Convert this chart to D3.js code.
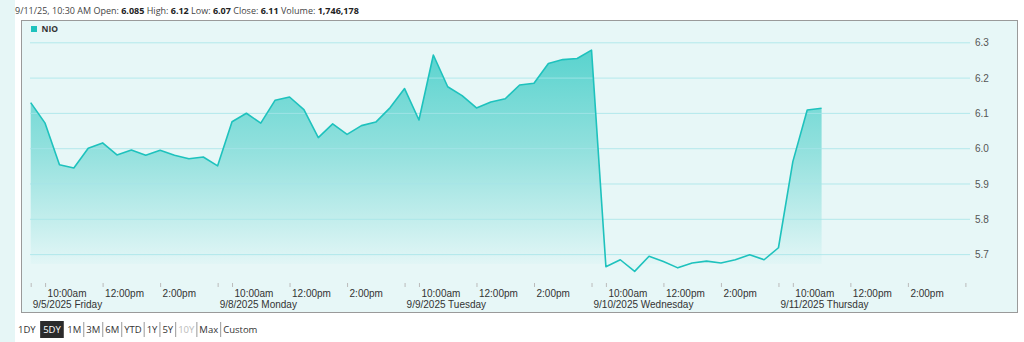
<!DOCTYPE html>
<html><head><meta charset="utf-8">
<script src="https://cdn.jsdelivr.net/npm/d3@7"></script>
<style>body{margin:0;background:#fff;}svg{display:block}</style>
</head><body>
<svg id="c" width="1024" height="342"></svg>
<script>
// ---------- data ----------
const symbol = "NIO";
const headerTime = "9/11/25, 10:30 AM";
const headerLabels = ["Open:", "High:", "Low:", "Close:", "Volume:"];
const headerValues = ["6.085", "6.12", "6.07", "6.11", "1,746,178"];
const dayLabels = ["9/5/2025 Friday", "9/8/2025 Monday", "9/9/2025 Tuesday", "9/10/2025 Wednesday", "9/11/2025 Thursday"];
const timeTickLabels = ["10:00am", "12:00pm", "2:00pm"];
const timeTickMinutes = [30, 150, 270];   // minutes after 9:30 open
const yTicks = [5.7, 5.8, 5.9, 6.0, 6.1, 6.2, 6.3];
// 30-minute closes, one array per trading day
const day1 = [6.129, 6.071, 5.953, 5.944, 6.000, 6.015, 5.981, 5.995, 5.980, 5.994, 5.980, 5.970, 5.975];
const day2 = [5.950, 6.075, 6.099, 6.071, 6.136, 6.145, 6.109, 6.030, 6.069, 6.039, 6.064, 6.074, 6.115];
const day3 = [6.169, 6.080, 6.264, 6.174, 6.149, 6.114, 6.131, 6.140, 6.179, 6.184, 6.240, 6.251, 6.254];
const day4 = [6.278, 5.664, 5.684, 5.651, 5.694, 5.679, 5.661, 5.675, 5.680, 5.675, 5.684, 5.698, 5.684];
const day5 = [5.718, 5.962, 6.108, 6.113];
const rangeButtons = ["1DY", "5DY", "1M", "3M", "6M", "YTD", "1Y", "5Y", "10Y", "Max", "Custom"];
const selectedRange = "5DY";
const disabledRange = ["10Y"];

// ---------- layout ----------
const DAY_MIN = 390, STEP = 30;
const days = [day1, day2, day3, day4, day5];
const points = [];
days.forEach((arr, d) => arr.forEach((v, k) => points.push({m: d * DAY_MIN + k * STEP, v})));

const svg = d3.select("#c");
const TEAL = "#1ec2bd";

// page background strip
svg.append("rect").attr("x", 0).attr("y", 0).attr("width", 15).attr("height", 342).attr("fill", "#e6f6f6");

// header
const hdr = svg.append("text").attr("x", 15).attr("y", 13.5)
  .attr("font-family", "'Open Sans', sans-serif").attr("font-size", 9).attr("fill", "#444");
hdr.append("tspan").text(headerTime + "  ");
headerLabels.forEach((l, i) => {
  hdr.append("tspan").text(" " + l + " ");
  hdr.append("tspan").attr("font-weight", "bold").attr("fill", "#222").text(headerValues[i] + " ");
});

// chart frame
svg.append("rect").attr("x", 21.5).attr("y", 20.5).attr("width", 996).attr("height", 292)
  .attr("fill", "#e7f7f7").attr("stroke", "#9a9a9a").attr("stroke-width", 1);

const x = d3.scaleLinear().domain([0, 5 * DAY_MIN]).range([30.7, 965.4]);
const y = d3.scaleLinear().domain([5.7, 6.3]).range([254.1, 42.3]);
const baseY = 264;

// gradient
const defs = svg.append("defs");
const g = defs.append("linearGradient").attr("id", "ag").attr("gradientUnits", "userSpaceOnUse")
  .attr("x1", 0).attr("x2", 0).attr("y1", y(6.3)).attr("y2", baseY);
g.append("stop").attr("offset", 0).attr("stop-color", "#55d2cd");
g.append("stop").attr("offset", 0.5).attr("stop-color", "#94e1de");
g.append("stop").attr("offset", 1).attr("stop-color", "#e2f6f6");

// area
const area = d3.area().x(d => x(d.m)).y0(baseY).y1(d => y(d.v));
svg.append("path").datum(points).attr("d", area).attr("fill", "url(#ag)");

// gridlines + y labels
const yAxis = d3.axisRight(y).tickValues(yTicks).tickSize(940).tickFormat(d3.format(".1f"));
const ya = svg.append("g").attr("transform", "translate(30,0)").call(yAxis);
ya.select(".domain").remove();
ya.selectAll(".tick line").attr("stroke", "#a6e5e8").attr("stroke-opacity", 0.8);
ya.selectAll(".tick text").attr("x", 945).attr("dy", "0.35em")
  .attr("font-family", "'Liberation Sans', Arial, sans-serif").attr("font-size", 10).attr("fill", "#555");

// line
const line = d3.line().x(d => x(d.m)).y(d => y(d.v));
svg.append("path").datum(points).attr("d", line).attr("fill", "none")
  .attr("stroke", TEAL).attr("stroke-width", 1.6).attr("stroke-linejoin", "round");

// legend
svg.append("rect").attr("x", 31).attr("y", 26).attr("width", 6).attr("height", 6).attr("fill", TEAL);
svg.append("text").attr("x", 41.5).attr("y", 32).text(symbol)
  .attr("font-family", "'Open Sans', sans-serif").attr("font-weight", "bold").attr("font-size", 8.5).attr("fill", "#333");

// x axis ticks & labels
const tickMins = [];
for (let d = 0; d <= 5; d++) {
  tickMins.push(d * DAY_MIN);
  if (d < 5) timeTickMinutes.forEach(t => tickMins.push(d * DAY_MIN + t));
}
const xAxis = d3.axisBottom(x).tickValues(tickMins).tickSize(4).tickFormat("");
const xa = svg.append("g").attr("transform", "translate(0,283)").call(xAxis);
xa.select(".domain").remove();
xa.selectAll(".tick line").attr("stroke", "#bbb");

const fontAx = "'Liberation Sans', Arial, sans-serif";
const lblG = svg.append("g").attr("font-family", fontAx).attr("font-size", 10).attr("fill", "#333");
dayLabels.forEach((dl, d) => {
  timeTickMinutes.forEach((t, i) => {
    lblG.append("text").attr("x", x(d * DAY_MIN + t) + 2.5).attr("y", 297).text(timeTickLabels[i]);
  });
  lblG.append("text").attr("x", x(d * DAY_MIN) + 2).attr("y", 308).text(dl);
});

// range buttons
const bg = svg.append("g").attr("font-family", "'Open Sans', sans-serif").attr("font-size", 9.5);
let bx = 18;
rangeButtons.forEach((b, i) => {
  const sel = b === selectedRange;
  const t = bg.append("text").attr("y", 333).text(b)
    .attr("fill", sel ? "#fff" : (disabledRange.includes(b) ? "#bbb" : "#333"));
  const w = t.node().getComputedTextLength();
  if (sel) {
    bg.insert("rect", "text").attr("x", bx - 1.5).attr("y", 321).attr("width", w + 6).attr("height", 17).attr("fill", "#2b2b2b");
    t.attr("x", bx + 1.5);
    bx += w + 8;
  } else {
    t.attr("x", bx);
    bx += w + 2;
    if (i >= 2 && i < rangeButtons.length - 1) {
      bg.append("line").attr("x1", bx + 0.5).attr("x2", bx + 0.5).attr("y1", 322).attr("y2", 337).attr("stroke", "#999");
      bx += 3;
    } else bx += 4;
  }
});
</script>
</body></html>
